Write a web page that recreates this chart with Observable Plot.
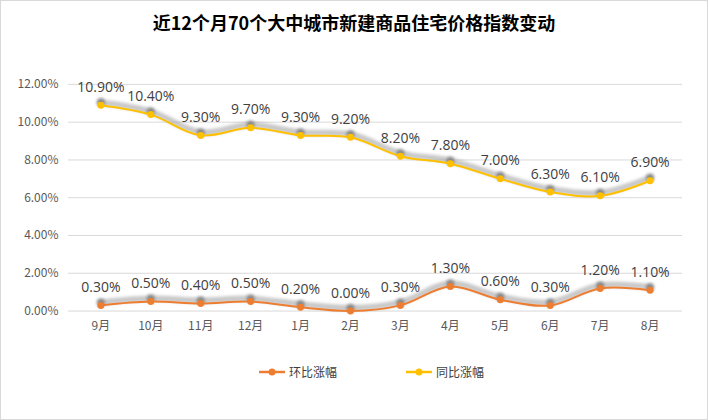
<!DOCTYPE html>
<html><head><meta charset="utf-8">
<script src="https://cdn.jsdelivr.net/npm/d3@7"></script>
<script src="https://cdn.jsdelivr.net/npm/@observablehq/plot@0.6"></script>
<style>
html,body{margin:0;padding:0;background:#fff;}
#wrap{position:relative;width:706px;height:418px;border:1px solid #d9d9d9;overflow:hidden;font-family:"Noto Sans CJK SC","Noto Sans",sans-serif;}
#title{position:absolute;left:0;top:8px;width:706px;text-align:center;font-size:18px;font-weight:bold;color:#000;}
#legend{position:absolute;top:362px;left:0;width:706px;font-size:12px;color:#404040;}
.li{position:absolute;display:flex;align-items:center;}
#chart{position:absolute;left:-1px;top:-1px;}
</style></head>
<body>
<div id="wrap">
<div id="chart"></div>
<div id="title">近12个月70个大中城市新建商品住宅价格指数变动</div>
<div id="legend"></div>
</div>
<script>
const months = ["9月","10月","11月","12月","1月","2月","3月","4月","5月","6月","7月","8月"];
const momValues = [0.3,0.5,0.4,0.5,0.2,0.0,0.3,1.3,0.6,0.3,1.2,1.1];
const yoyValues = [10.9,10.4,9.3,9.7,9.3,9.2,8.2,7.8,7.0,6.3,6.1,6.9];
const yTicks = [0,2,4,6,8,10,12];
const seriesNames = ["环比涨幅","同比涨幅"];
const colors = ["#ED7D31","#FFC000"];

const mom = months.map((m,i)=>({m, v: momValues[i]}));
const yoy = months.map((m,i)=>({m, v: yoyValues[i]}));
const fmt = v => v.toFixed(2) + "%";

const SHADOW_LINE = "#a3a3a3", SHADOW_DOT = "#7b7b7b";
const shadowLine = data => Plot.line(data, {x: "m", y: "v", curve: "catmull-rom", stroke: SHADOW_LINE, strokeWidth: 6, strokeOpacity: 0.6, dy: -3});
const shadowDot = data => Plot.dot(data, {x: "m", y: "v", r: 4, fill: SHADOW_DOT, fillOpacity: 0.85, dy: -3});

const plot = Plot.plot({
  width: 708, height: 420,
  marginLeft: 68, marginRight: 25, marginTop: 84, marginBottom: 109,
  style: {fontFamily: '"Noto Sans CJK SC","Noto Sans",sans-serif', background: "transparent"},
  x: {type: "band", domain: months, label: null, tickSize: 0, tickPadding: 10},
  y: {domain: [0, 12], ticks: yTicks, tickFormat: fmt, label: null, tickSize: 0, tickPadding: 10},
  marks: [
    Plot.ruleY(yTicks, {stroke: "#d9d9d9", strokeWidth: 1}),
    shadowLine(yoy), shadowDot(yoy), shadowLine(mom), shadowDot(mom),
    Plot.line(yoy, {x: "m", y: "v", curve: "catmull-rom", stroke: colors[1], strokeWidth: 2}),
    Plot.dot(yoy, {x: "m", y: "v", r: 3.5, fill: colors[1]}),
    Plot.line(mom, {x: "m", y: "v", curve: "catmull-rom", stroke: colors[0], strokeWidth: 2}),
    Plot.dot(mom, {x: "m", y: "v", r: 3.5, fill: colors[0]}),
    Plot.text(yoy, {x: "m", y: "v", text: d => fmt(d.v), dy: -18, fontSize: 14, fontFamily: '"Open Sans",sans-serif', fill: "#404040"}),
    Plot.text(mom, {x: "m", y: "v", text: d => fmt(d.v), dy: -18, fontSize: 14, fontFamily: '"Open Sans",sans-serif', fill: "#404040"})
  ]
});
const svg = d3.select(plot);
svg.style("overflow", "visible");
svg.selectAll("g[aria-label='y-axis tick label'], g[aria-label='x-axis tick label']").attr("fill", "#595959").attr("font-size", 12);
svg.selectAll(`g[stroke='${SHADOW_LINE}'], g[fill='${SHADOW_DOT}']`).style("filter", "blur(1.4px)");
document.getElementById("chart").appendChild(plot);

// legend
const legend = d3.select("#legend");
const lx = [257, 404];
seriesNames.forEach((name, i) => {
  const item = legend.append("div").attr("class", "li").style("left", lx[i] + "px");
  const s = item.append("svg").attr("width", 28).attr("height", 16);
  s.append("line").attr("x1", 1).attr("x2", 27).attr("y1", 8).attr("y2", 8).attr("stroke", colors[i]).attr("stroke-width", 2.5);
  s.append("circle").attr("cx", 14).attr("cy", 8).attr("r", 3.5).attr("fill", colors[i]);
  item.append("span").style("margin-left", "3px").text(name);
});
</script>
</body></html>
